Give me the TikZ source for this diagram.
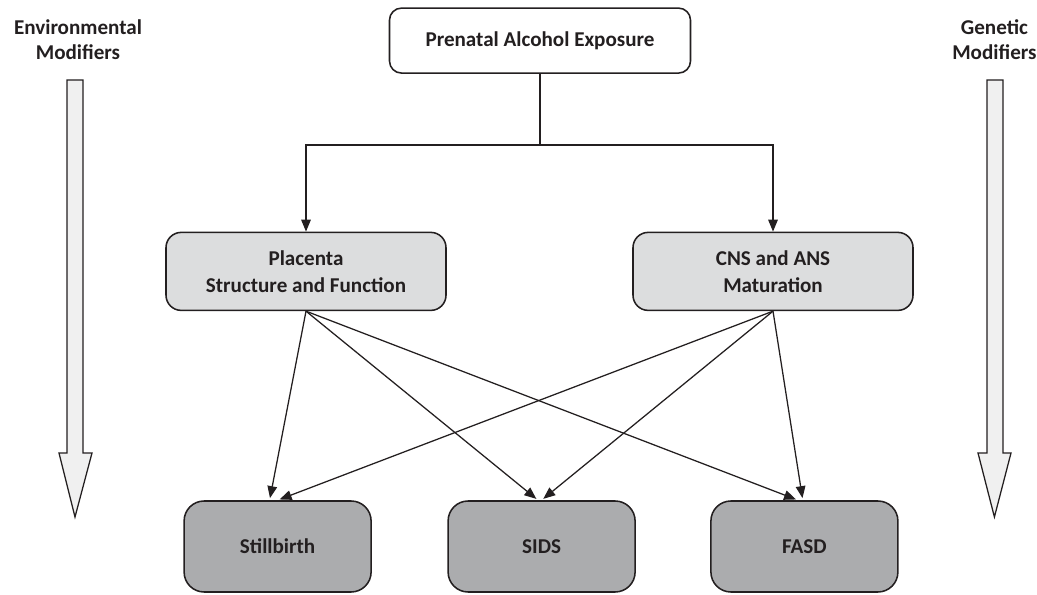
\documentclass[tikz,border=0pt]{standalone}
\usepackage{fontspec}
\setmainfont{Carlito}
\usepackage{tikz}
\usetikzlibrary{arrows.meta,positioning,calc}
\definecolor{inkgray}{HTML}{231F20}
\definecolor{midfill}{HTML}{DCDDDE}
\definecolor{lowfill}{HTML}{ABACAE}
\definecolor{blockfill}{HTML}{F0F0F0}

\begin{document}
\begin{tikzpicture}[
    font=\fontsize{15}{19}\selectfont\bfseries,
    topbox/.style={draw=inkgray,line width=1.1pt,rounded corners=0.3cm,fill=white,text=inkgray,align=center,minimum width=7.525cm,minimum height=1.625cm},
    midbox/.style={topbox,fill=midfill,rounded corners=0.38cm,minimum width=7cm,minimum height=1.95cm},
    lowbox/.style={topbox,fill=lowfill,rounded corners=0.5cm,minimum width=4.675cm,minimum height=2.275cm},
    side/.style={align=center,text=inkgray,font=\fontsize{15}{18}\selectfont\bfseries},
    link/.style={draw=inkgray,line width=0.9pt,-{Triangle[length=0.3cm,width=0.24cm]},shorten >=1.5pt},
    blockarrow/.style={draw=inkgray,line width=0.9pt,fill=blockfill,line join=miter}
]
\useasboundingbox (0,0) rectangle (25.925,14.875);

% Exposure
\node[topbox] (pae) at (13.5,13.86) {Prenatal Alcohol Exposure};

% Pathways
\node[midbox] (placenta) at (7.65,8.09) {Placenta\\Structure and Function};
\node[midbox] (cns) at (19.325,8.09) {CNS and ANS\\Maturation};

% Outcomes
\node[lowbox] (still) at (6.94,1.2125) {Stillbirth};
\node[lowbox] (sids) at (13.54,1.2125) {SIDS};
\node[lowbox] (fasd) at (20.11,1.2125) {FASD};

% Fork
\draw[draw=inkgray,line width=1.1pt] (pae.south) -- (pae.south |- 0,11.25) coordinate (fork);
\draw[link,shorten >=0pt] (fork) -| (placenta.north);
\draw[link,shorten >=0pt] (fork) -| (cns.north);

% Links to outcomes
\draw[link] (placenta.south) -- ([xshift=-0.2cm]still.north);
\draw[link] (placenta.south) -- ([xshift=-0.09cm]sids.north);
\draw[link] (placenta.south) -- ([xshift=-0.16cm]fasd.north);
\draw[link] (cns.south) -- (still.north);
\draw[link] (cns.south) -- (sids.north);
\draw[link] (cns.south) -- ([xshift=-0.04cm]fasd.north);

% Modifiers
\node[side] (env) at (1.95,13.89) {Environmental\\Modifiers};
\node[side] (gen) at (24.86,13.89) {Genetic\\Modifiers};
\draw[blockarrow] (1.675,12.875) -- (2.075,12.875) -- (2.075,3.55) -- (2.3,3.55)
    -- (1.875,1.95) -- (1.475,3.55) -- (1.675,3.55) -- cycle;
\draw[blockarrow] (24.675,12.875) -- (25.075,12.875) -- (25.075,3.55) -- (25.275,3.55)
    -- (24.86,1.95) -- (24.45,3.55) -- (24.675,3.55) -- cycle;
\end{tikzpicture}
\end{document}
